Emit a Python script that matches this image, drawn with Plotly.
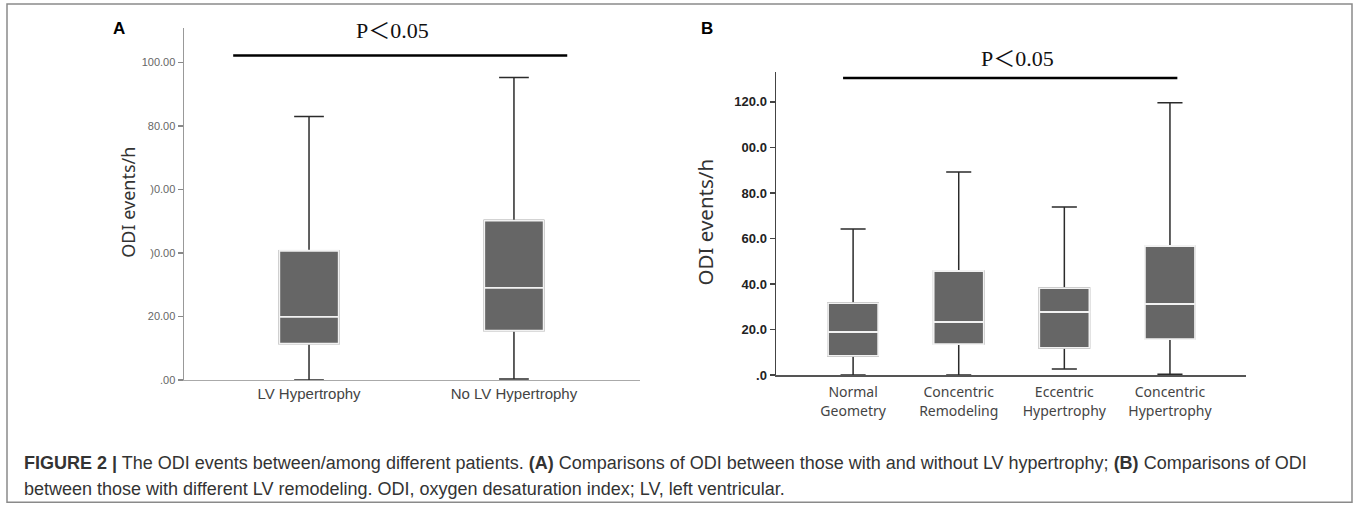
import plotly.graph_objects as go

# ---------------- data ----------------
groups_a = ["LV Hypertrophy", "No LV Hypertrophy"]
a_lower = [0.0, 0.3]
a_q1 = [11.4, 15.5]
a_median = [19.9, 29.0]
a_q3 = [40.7, 50.2]
a_upper = [83.0, 95.3]

groups_b = ["Normal Geometry", "Concentric Remodeling", "Eccentric Hypertrophy", "Concentric Hypertrophy"]
b_ticktext = ["Normal<br>Geometry", "Concentric<br>Remodeling", "Eccentric<br>Hypertrophy", "Concentric<br>Hypertrophy"]
b_lower = [0.0, 0.0, 2.6, 0.4]
b_q1 = [8.4, 13.6, 11.9, 15.8]
b_median = [18.9, 23.3, 27.7, 31.2]
b_q3 = [31.6, 45.7, 38.2, 56.7]
b_upper = [64.2, 89.2, 73.8, 119.6]

a_tickvals = [0, 20, 40, 60, 80, 100]
a_ticktext = [".00", "20.00", ")0.00", ")0.00", "80.00", "100.00"]
b_tickvals = [0, 20, 40, 60, 80, 100, 120]
b_ticktext_y = [".0", "20.0", "40.0", "60.0", "80.0", "00.0", "120.0"]

sig_text = "P\uff1c0.05"
sig_a_y = 102.2
sig_b_y = 130.5

caption_1 = ("<b>FIGURE 2 |</b> The ODI events between/among different patients. <b>(A)</b> Comparisons of ODI "
             "between those with and without LV hypertrophy; <b>(B)</b> Comparisons of ODI")
caption_2 = "between those with different LV remodeling. ODI, oxygen desaturation index; LV, left ventricular."

# ---------------- layout helpers ----------------
W, H = 1358, 511
def fx(px):
    return px / W
def fy(py):
    return 1 - py / H

BOX_FILL = "#666666"
WHISKER = "#2b2b2b"

fig = go.Figure()

def add_boxes(groups, lo, q1, med, q3, hi, width, xa, ya):
    # whiskers + caps
    fig.add_trace(go.Box(
        x=groups, lowerfence=lo, q1=q1, median=med, q3=q3, upperfence=hi,
        width=width, whiskerwidth=0.5, fillcolor=BOX_FILL,
        line=dict(color=WHISKER, width=1.5), boxpoints=False,
        xaxis=xa, yaxis=ya, showlegend=False, hoverinfo="skip"))
    # box body with white median / outline
    fig.add_trace(go.Box(
        x=groups, lowerfence=q1, q1=q1, median=med, q3=q3, upperfence=q3,
        width=width, whiskerwidth=0, fillcolor=BOX_FILL,
        line=dict(color="#f2f2f2", width=1.8), boxpoints=False,
        xaxis=xa, yaxis=ya, showlegend=False, hoverinfo="skip"))

add_boxes(groups_a, a_lower, a_q1, a_median, a_q3, a_upper, 0.29, "x", "y")
add_boxes(groups_b, b_lower, b_q1, b_median, b_q3, b_upper, 0.475, "x2", "y2")

fig.update_layout(
    width=W, height=H,
    margin=dict(l=0, r=0, t=0, b=0),
    paper_bgcolor="white", plot_bgcolor="white",
    boxmode="overlay",
    showlegend=False,
    xaxis=dict(domain=[fx(184), fx(640)], range=[-0.61, 1.615], type="category",
               showline=True, linecolor="#aaaaaa", linewidth=1.5, ticks="",
               showgrid=False, zeroline=False,
               tickfont=dict(family="Liberation Sans Narrow, Liberation Sans, Arial", size=15, color="#444444"),
               anchor="y"),
    yaxis=dict(domain=[fy(386), fy(28)], range=[0, 111],
               showline=True, linecolor="#999999", linewidth=1.5,
               ticks="outside", ticklen=5, tickcolor="#888888", tickwidth=1.2,
               tickvals=a_tickvals, ticktext=a_ticktext,
               showgrid=False, zeroline=False,
               tickfont=dict(family="Liberation Sans, Arial", size=11, color="#666666"),
               anchor="x"),
    xaxis2=dict(domain=[fx(776), fx(1246)], range=[-0.73, 3.72], type="category",
                showline=True, linecolor="#555555", linewidth=1.5, ticks="",
                tickvals=groups_b, ticktext=b_ticktext, ticklabelstandoff=4,
                showgrid=False, zeroline=False,
                tickfont=dict(family="Noto Sans, Liberation Sans", size=14, color="#444444"),
                anchor="y2"),
    yaxis2=dict(domain=[fy(381), fy(73)], range=[0, 133.2],
                showline=True, linecolor="#444444", linewidth=1.5,
                ticks="outside", ticklen=5, tickcolor="#444444", tickwidth=1.5,
                tickvals=b_tickvals, ticktext=b_ticktext_y,
                showgrid=False, zeroline=False,
                tickfont=dict(family="Liberation Sans, Arial", size=13, color="#222222", weight="bold"),
                anchor="x2"),
)

# significance bars
fig.add_shape(type="line", xref="x", yref="y", x0=-0.37, x1=1.26, y0=sig_a_y, y1=sig_a_y,
              line=dict(color="black", width=2.5))
fig.add_shape(type="line", xref="x2", yref="y2", x0=-0.095, x1=3.07, y0=sig_b_y, y1=sig_b_y,
              line=dict(color="black", width=2.5))

serif = "Liberation Serif, Times New Roman, Noto Sans CJK SC"
fig.add_annotation(xref="x", yref="paper", x=0.405, y=fy(30.5), text=sig_text, showarrow=False,
                   font=dict(family=serif, size=22, color="#111111"), xanchor="center", yanchor="middle")
fig.add_annotation(xref="x2", yref="paper", x=1.552, y=fy(59), text=sig_text, showarrow=False,
                   font=dict(family=serif, size=22, color="#111111"), xanchor="center", yanchor="middle")

# panel letters
fig.add_annotation(xref="paper", yref="paper", x=fx(119), y=fy(29), text="<b>A</b>", showarrow=False,
                   font=dict(family="Liberation Sans, Arial", size=17, color="black"),
                   xanchor="center", yanchor="middle")
fig.add_annotation(xref="paper", yref="paper", x=fx(707), y=fy(29), text="<b>B</b>", showarrow=False,
                   font=dict(family="Liberation Sans, Arial", size=17, color="black"),
                   xanchor="center", yanchor="middle")

# y titles
fig.add_annotation(xref="paper", yref="paper", x=fx(128), y=fy(206), text="ODI events/h", showarrow=False,
                   textangle=-90, font=dict(family="Noto Sans, Liberation Sans", size=18, color="#333333"),
                   xanchor="center", yanchor="middle")
fig.add_annotation(xref="paper", yref="paper", x=fx(705), y=fy(226), text="ODI events/h", showarrow=False,
                   textangle=-90, font=dict(family="Noto Sans, Liberation Sans", size=20.5, color="#333333"),
                   xanchor="center", yanchor="middle")

# caption
cap_font = dict(family="Liberation Sans, Arial", size=18, color="#333333")
fig.add_annotation(xref="paper", yref="paper", x=fx(22), y=fy(470), text=caption_1, showarrow=False,
                   font=cap_font, xanchor="left", yanchor="middle", align="left")
fig.add_annotation(xref="paper", yref="paper", x=fx(22), y=fy(497), text=caption_2, showarrow=False,
                   font=cap_font, xanchor="left", yanchor="middle", align="left")

# outer frame
fig.add_shape(type="rect", xref="paper", yref="paper", x0=fx(7), x1=fx(1352), y0=fy(510.3), y1=fy(4),
              line=dict(color="#8a8a8a", width=1.5), fillcolor="rgba(0,0,0,0)", layer="below")

fig.write_html("out.html",
               config={"displayModeBar": False, "staticPlot": True},
               post_script="document.body.style.margin='0';document.body.style.overflow='hidden';")
